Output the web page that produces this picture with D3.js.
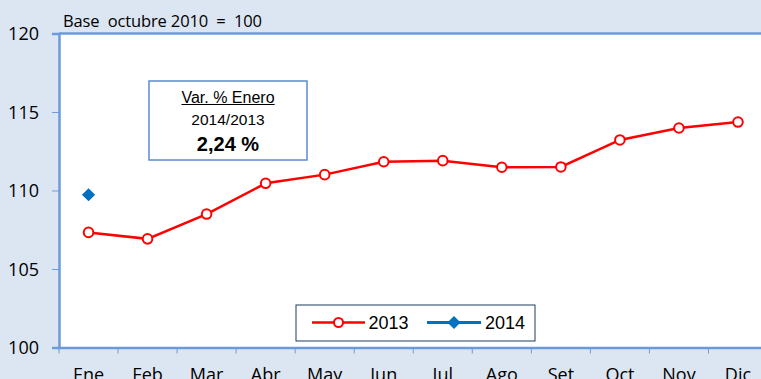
<!DOCTYPE html>
<html>
<head>
<meta charset="utf-8">
<script src="https://cdn.jsdelivr.net/npm/d3@7"></script>
<style>
  html, body { margin: 0; padding: 0; background: #dce6f2; overflow: hidden; }
  svg { display: block; }
</style>
</head>
<body>
<svg id="chart" width="761" height="379"></svg>
<script>
// Índice mensual, base octubre 2010 = 100
const months = ["Ene", "Feb", "Mar", "Abr", "May", "Jun", "Jul", "Ago", "Set", "Oct", "Nov", "Dic"];
const values2013 = [107.33, 106.92, 108.50, 110.46, 111.01, 111.83, 111.90, 111.48, 111.50, 113.22, 113.98, 114.36];
const values2014 = [109.73];
const yTicks = [100, 105, 110, 115, 120];
const seriesNames = ["2013", "2014"];
const noteLines = ["Var. % Enero", "2014/2013", "2,24 %"];
const baseNote = "Base  octubre 2010  =  100";

const plot = { left: 59, top: 33.5, right: 767.5, bottom: 347.5 };
const svg = d3.select("#chart");
const axisColor = "#6c9bdb";
const sans = "'Open Sans', sans-serif";
const arial = "Arial, 'Liberation Sans', sans-serif";

const x = d3.scaleBand().domain(months).range([plot.left, plot.right]);
const y = d3.scaleLinear().domain([100, 120]).range([plot.bottom, plot.top]);

// plot area
svg.append("rect")
  .attr("x", plot.left).attr("y", plot.top)
  .attr("width", plot.right - plot.left).attr("height", plot.bottom - plot.top)
  .attr("fill", "#ffffff");

// top border
svg.append("line")
  .attr("x1", plot.left).attr("x2", plot.right)
  .attr("y1", plot.top).attr("y2", plot.top)
  .attr("stroke", axisColor).attr("stroke-width", 2.5);

// y axis
const yAxis = svg.append("g")
  .attr("transform", `translate(${plot.left},0)`)
  .call(d3.axisLeft(y).tickValues(yTicks).tickSize(7).tickPadding(13).tickFormat(d3.format("d")));
yAxis.select(".domain").attr("stroke", axisColor).attr("stroke-width", 2.5);
yAxis.selectAll(".tick line").attr("stroke", axisColor).attr("stroke-width", 1);
yAxis.selectAll(".tick text")
  .attr("font-family", sans).attr("font-size", 18).attr("fill", "#000")
  .attr("dy", "0.36em");

// x axis with ticks on category boundaries
const xAxis = svg.append("g")
  .attr("transform", `translate(0,${plot.bottom})`)
  .call(d3.axisBottom(x).tickSize(0).tickPadding(21));
xAxis.select(".domain").attr("stroke", axisColor).attr("stroke-width", 2.5);
xAxis.selectAll(".tick text")
  .attr("font-family", sans).attr("font-size", 18).attr("fill", "#000");
xAxis.selectAll(".boundary")
  .data(months)
  .enter().append("line")
  .attr("class", "boundary")
  .attr("x1", d => x(d)).attr("x2", d => x(d))
  .attr("y1", 0).attr("y2", 6)
  .attr("stroke", axisColor).attr("stroke-width", 1);

// base note
svg.append("text")
  .attr("x", 63).attr("y", 26.5)
  .attr("font-family", sans).attr("font-size", 16.5).attr("fill", "#000")
  .style("white-space", "pre")
  .attr("textLength", 199).attr("lengthAdjust", "spacing")
  .text(baseNote);

// 2013 series
const cx = d => x(d) + x.bandwidth() / 2;
const line = d3.line().x((d, i) => cx(months[i])).y(d => y(d));
svg.append("path")
  .datum(values2013)
  .attr("d", line)
  .attr("fill", "none").attr("stroke", "#ff0000").attr("stroke-width", 2.5);
svg.selectAll(".p2013")
  .data(values2013)
  .enter().append("circle")
  .attr("class", "p2013")
  .attr("cx", (d, i) => cx(months[i])).attr("cy", d => y(d))
  .attr("r", 4.8)
  .attr("fill", "#fff").attr("stroke", "#ff0000").attr("stroke-width", 2);

// 2014 series
const diamond = d3.symbol().type(d3.symbolDiamond2).size(110);
svg.append("path").datum(values2014).attr("d", line)
  .attr("fill", "none").attr("stroke", "#0070c0").attr("stroke-width", 3);
svg.selectAll(".p2014")
  .data(values2014)
  .enter().append("path")
  .attr("class", "p2014")
  .attr("transform", (d, i) => `translate(${cx(months[i])},${y(d)})`)
  .attr("d", diamond)
  .attr("fill", "#0070c0");

// note box
const note = svg.append("g");
note.append("rect")
  .attr("x", 149).attr("y", 81).attr("width", 158).attr("height", 79)
  .attr("fill", "#fff").attr("stroke", "#5b8bd0").attr("stroke-width", 1.5);
const t0 = note.append("text")
  .attr("x", 228).attr("y", 102.5).attr("text-anchor", "middle")
  .attr("font-family", arial).attr("font-size", 16).attr("fill", "#000")
  .text(noteLines[0]);
const bb = t0.node().getBBox();
note.append("line")
  .attr("x1", bb.x).attr("x2", bb.x + bb.width).attr("y1", 104.5).attr("y2", 104.5)
  .attr("stroke", "#000").attr("stroke-width", 1);
note.append("text")
  .attr("x", 228).attr("y", 124.5).attr("text-anchor", "middle")
  .attr("font-family", arial).attr("font-size", 15.5).attr("fill", "#000")
  .text(noteLines[1]);
note.append("text")
  .attr("x", 228).attr("y", 151).attr("text-anchor", "middle")
  .attr("font-family", arial).attr("font-size", 20).attr("font-weight", "bold").attr("fill", "#000")
  .text(noteLines[2]);

// legend
const legend = svg.append("g");
legend.append("rect")
  .attr("x", 296).attr("y", 305).attr("width", 239).attr("height", 36)
  .attr("fill", "#fff").attr("stroke", "#1f3a60").attr("stroke-width", 1);
const legY = 322.5;
legend.append("line").attr("x1", 312).attr("x2", 365).attr("y1", legY).attr("y2", legY)
  .attr("stroke", "#ff0000").attr("stroke-width", 2.5);
legend.append("circle").attr("cx", 338.5).attr("cy", legY).attr("r", 4.5)
  .attr("fill", "#fff").attr("stroke", "#ff0000").attr("stroke-width", 2);
legend.append("text").attr("x", 368.5).attr("y", 329)
  .attr("font-family", arial).attr("font-size", 18).attr("fill", "#000").text(seriesNames[0]);
legend.append("line").attr("x1", 427).attr("x2", 481).attr("y1", legY).attr("y2", legY)
  .attr("stroke", "#0070c0").attr("stroke-width", 3);
legend.append("path").attr("transform", `translate(454,${legY})`).attr("d", diamond)
  .attr("fill", "#0070c0");
legend.append("text").attr("x", 485).attr("y", 329)
  .attr("font-family", arial).attr("font-size", 18).attr("fill", "#000").text(seriesNames[1]);
</script>
</body>
</html>
